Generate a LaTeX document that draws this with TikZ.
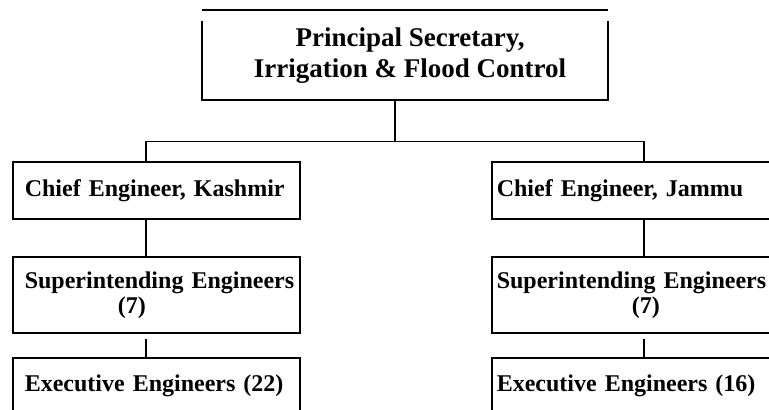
\documentclass[tikz,border=0pt]{standalone}
\usepackage{fontspec}
\setmainfont{Liberation Serif}
\usetikzlibrary{positioning}

\begin{document}
\begin{tikzpicture}[x=0.5pt, y=-0.5pt, line width=0.8pt,
    post/.style={draw, anchor=north west, align=left, inner xsep=6pt, text width=131.5pt,
        minimum height=28.5pt, font=\bfseries\fontsize{12}{14}\selectfont,
        execute at begin node={\hyphenpenalty=10000 \hbadness=10000 \hfuzz=20pt }},
    postr/.style={post, inner xsep=2.5pt, text width=138.5pt},
    tall/.style={minimum height=38pt, font=\bfseries\fontsize{12}{12.5}\selectfont},
    headtext/.style={align=center, inner sep=0pt, font=\bfseries\fontsize{13.5}{15.5}\selectfont}]
    \clip (0,0) rectangle (769,410);

    % Head of department
    \node[minimum width=202pt, minimum height=44pt, inner sep=0pt] (secy) at (405,55) {};
    \draw (secy.north west) -- (secy.north east);
    \draw ([yshift=-5.5pt]secy.north west) -- (secy.south west) -- (secy.south east) -- ([yshift=-5.5pt]secy.north east);
    \node[headtext] (secylabel) at (410,56) {Principal Secretary,\\Irrigation \& Flood Control};

    % Kashmir wing
    \node[post] (ceK) at (12,161) {Chief Engineer, Kashmir};
    \node[post, tall] (seK) at (12,256) {\mbox{Superintending Engineers}\\\hspace*{46.5pt}(7)};
    \node[post] (eeK) at (12,357) {Executive Engineers (22)};

    % Jammu wing
    \node[postr] (ceJ) at (491,161) {Chief Engineer, Jammu};
    \node[postr, tall] (seJ) at (491,256) {\mbox{Superintending Engineers}\\\hspace*{67.5pt}(7)};
    \node[postr] (eeJ) at (491,357) {Executive Engineers (16)};

    % Connectors
    \coordinate (split) at (395,141.5);
    \coordinate (kx) at (146,0);
    \coordinate (jx) at (644,0);
    \draw (secy.south -| split) -- (split);
    \draw (ceK.north -| kx) |- (split) -| (ceJ.north -| jx);
    \foreach \up/\down/\x in {ceK/seK/kx, ceJ/seJ/jx}
        \draw (\up.south -| \x) -- (\down.north -| \x);
    \foreach \up/\down/\x in {seK/eeK/kx, seJ/eeJ/jx}
        \draw[shorten <=2.5pt] (\up.south -| \x) -- (\down.north -| \x);
\end{tikzpicture}
\end{document}
